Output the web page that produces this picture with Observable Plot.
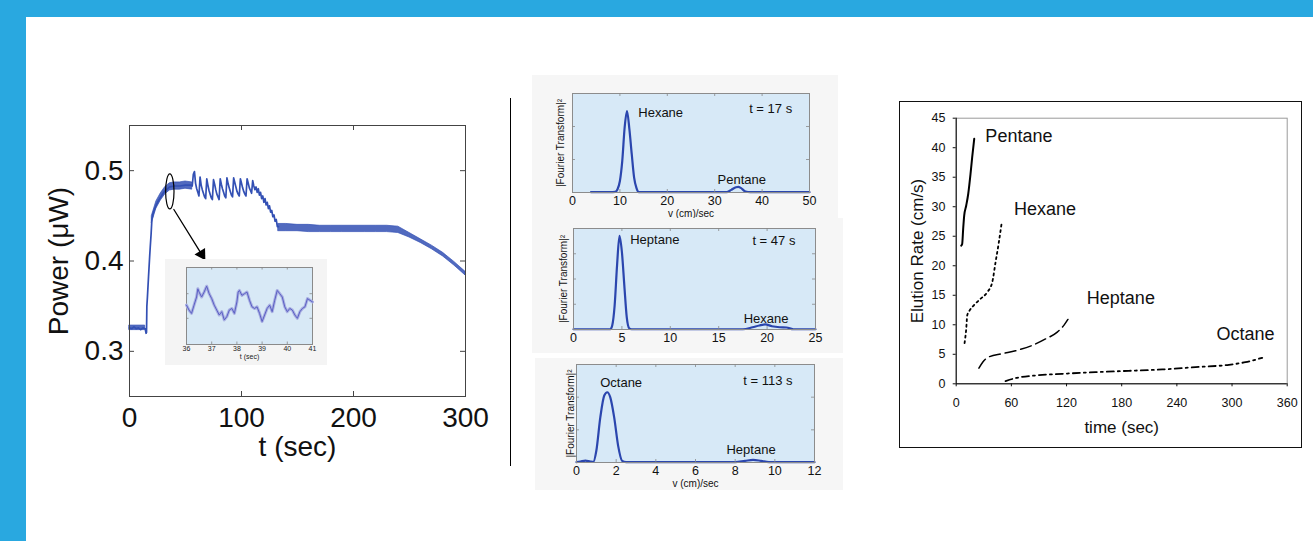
<!DOCTYPE html>
<html><head><meta charset="utf-8">
<script src="https://cdn.jsdelivr.net/npm/d3@7"></script>
<script src="https://cdn.jsdelivr.net/npm/@observablehq/plot@0.6"></script>
<style>
html,body{margin:0;padding:0;background:#fff;}
#page{position:relative;width:1313px;height:541px;overflow:hidden;font-family:"Liberation Sans",Arial,sans-serif;background:#fff;}
.abs{position:absolute;}
</style></head><body><div id="page">
<div class="abs" style="left:0;top:0;width:1313px;height:17px;background:#29a8e0"></div>
<div class="abs" style="left:0;top:0;width:26px;height:541px;background:#29a8e0"></div>
<div class="abs" style="left:510px;top:98px;width:1px;height:368px;background:#000"></div>
<div class="abs" style="left:899px;top:101px;width:403px;height:347px;box-sizing:border-box;border:1.5px solid #111"></div>
</div>
<script>
// ---------- Main power trace ----------
const mainXTicks = [0, 100, 200, 300];
const mainYTicks = [0.3, 0.4, 0.5];
const powerT = [0,2,4,6,8,10,12,14,14.8,15.2,15.5,16,17,18,18.5,19.3,20,21,22,24,26,28,30,32,34,36,40,45,50,55,56,
  57,58,59,60,61,62,63,64,65,66,67,68,69,70,71,72,73,74,75,76,77,78,79,80,81,82,83,84,85,86,87,88,89,90,
  91,92,93,94,95,96,97,98,99,100,101,102,103,104,105,106,107,108,109,110,111,112,113,114,115,116,117,118,119,120,
  121,122,123,124,125,126,127,128,129,130,131,132,133];
const powerV = [0.326,0.325,0.327,0.325,0.326,0.324,0.326,0.325,0.320,0.321,0.350,0.360,0.383,0.405,0.415,0.430,0.446,0.452,0.456,0.462,0.467,0.471,0.475,0.478,0.480,0.482,0.483,0.483,0.484,0.484,0.483,
  0.496,0.499,0.486,0.480,0.476,0.472,0.493,0.484,0.479,0.475,0.471,0.469,0.491,0.484,0.478,0.474,0.470,0.468,0.490,0.485,0.479,0.474,0.471,0.468,0.491,0.485,0.480,0.476,0.472,0.470,0.492,0.486,0.481,0.477,
  0.473,0.471,0.492,0.487,0.482,0.477,0.474,0.472,0.491,0.486,0.481,0.477,0.474,0.472,0.491,0.486,0.481,0.478,0.475,0.489,0.483,0.479,0.482,0.476,0.480,0.473,0.476,0.469,0.472,0.465,
  0.469,0.462,0.465,0.458,0.461,0.454,0.456,0.449,0.451,0.444,0.446,0.438,0.438];
// noise envelope (dense oscillation band)
const bandT   = [0,14, 20,24,28,32,36,40,45,50,56, 133,140,150,160,170,180,190,200,210,220,230,240,250,260,270,280,290,300];
const bandLo  = [0.3235,0.3235, 0.442,0.458,0.467,0.474,0.478,0.479,0.479,0.480,0.479, 0.433,0.433,0.433,0.432,0.432,0.432,0.432,0.432,0.432,0.432,0.432,0.431,0.426,0.420,0.413,0.405,0.395,0.384];
const bandHi  = [0.3285,0.3285, 0.450,0.466,0.475,0.482,0.486,0.487,0.487,0.488,0.487, 0.441,0.441,0.440,0.440,0.439,0.439,0.439,0.439,0.439,0.439,0.439,0.438,0.431,0.424,0.417,0.409,0.399,0.388];
const bandSeg = ["a","a","b","b","b","b","b","b","b","b","b","c","c","c","c","c","c","c","c","c","c","c","c","c","c","c","c","c","c"];
// zoom marker + arrow
const markT = [36], markP = [0.477];
const arrowT = [39.6, 64.6], arrowP = [0.457, 0.407];
const arrowHeadT = [64.4], arrowHeadP = [0.4075];

// ---------- Inset ----------
const insetXTicks = [36, 37, 38, 39, 40, 41];
const insetYTicks = [0.34, 0.66];
const insetT = [36.0,36.1,36.2,36.3,36.4,36.45,36.5,36.6,36.7,36.8,36.9,37.0,37.1,37.2,37.3,37.4,37.5,37.6,37.7,37.8,37.9,38.0,38.05,38.1,38.2,38.3,38.4,38.5,38.6,38.7,38.8,38.9,39.0,39.1,39.2,39.3,39.4,39.5,39.6,39.7,39.8,39.9,40.0,40.1,40.2,40.3,40.4,40.5,40.6,40.7,40.8,40.9,41.0];
const insetV = [0.511,0.447,0.404,0.511,0.617,0.723,0.681,0.617,0.681,0.757,0.660,0.596,0.511,0.447,0.383,0.426,0.319,0.362,0.447,0.468,0.404,0.553,0.681,0.702,0.638,0.660,0.681,0.574,0.489,0.468,0.489,0.404,0.298,0.383,0.468,0.511,0.426,0.574,0.702,0.660,0.617,0.489,0.426,0.468,0.447,0.383,0.340,0.426,0.468,0.489,0.596,0.574,0.553];

// ---------- Fourier transform panels ----------
const ft1XTicks = [0,10,20,30,40,50], ft1YTicks = [1,2];
const ft1V = [3.9,8,9,9.5,10,10.5,11,11.5,12,12.5,13,13.5,14,20,28,32.5,33.5,34.5,35,35.5,36.5,37.5,50];
const ft1A = [0.01,0.01,0.02,0.10,0.35,0.96,1.97,2.47,1.92,1.16,0.45,0.13,0.01,0.01,0.01,0.01,0.08,0.16,0.17,0.14,0.03,0.01,0.01];
const ft1Names = ["Hexane","Pentane"], ft1NameV = [18.6,35.7], ft1NameA = [2.42,0.37];
const ft1Time = ["t = 17 s"], ft1TimeV = [41.8], ft1TimeA = [2.55];

const ft2XTicks = [0,5,10,15,20,25], ft2YTicks = [1,2,3];
const ft2V = [0,3.8,4.0,4.25,4.5,4.75,5.0,5.25,5.5,5.75,6,17.5,18.5,19.2,19.8,20.5,21.3,22,22.7,25];
const ft2A = [0.01,0.01,0.16,0.95,2.54,3.71,3.07,1.75,0.49,0.05,0.01,0.01,0.09,0.16,0.20,0.13,0.09,0.08,0.01,0.01];
const ft2Names = ["Heptane","Hexane"], ft2NameV = [8.4,19.9], ft2NameA = [3.56,0.42];
const ft2Time = ["t = 47 s"], ft2TimeV = [20.7], ft2TimeA = [3.5];

const ft3XTicks = [0,2,4,6,8,10,12], ft3YTicks = [1,2];
const ft3V = [0,0.2,0.45,0.7,0.85,1.0,1.2,1.4,1.55,1.7,1.9,2.1,2.3,2.5,8.0,8.5,8.9,9.3,9.7,12];
const ft3A = [0.01,0.03,0.06,0.03,0.02,0.36,1.38,2.05,2.15,2.0,1.38,0.51,0.05,0.01,0.01,0.05,0.08,0.05,0.01,0.01];
const ft3Names = ["Octane","Heptane"], ft3NameV = [2.25,8.8], ft3NameA = [2.44,0.38];
const ft3Time = ["t = 113 s"], ft3TimeV = [9.65], ft3TimeA = [2.51];

// ---------- Elution rate ----------
const timeTicks = [0,60,120,180,240,300,360];
const rateTicks = [0,5,10,15,20,25,30,35,40,45];
const pentaneT = [5.4,6.5,7.6,8.7,10.9,13.1,15.6,17.4,19.6];
const pentaneR = [23.4,23.7,26.3,28.5,30.2,32.2,35.6,38.4,41.5];
const hexaneT = [9.1,10.9,12.0,14.5,19.2,26.5,33.7,39.2,42.8,46.4,49.3];
const hexaneR = [6.9,9.3,11.6,12.4,13.3,14.4,15.5,17.2,20.6,24.0,27.1];
const heptaneT = [24.7,29.0,34.8,50.0,64.5,82.7,97.2,109.9,117.1,121.5];
const heptaneR = [2.65,3.7,4.5,5.1,5.6,6.5,7.6,8.75,9.9,10.9];
const octaneT = [53.7,64.5,86.3,115.3,151.5,187.8,224.1,260.3,296.6,314.7,332.8];
const octaneR = [0.45,0.96,1.41,1.69,1.98,2.2,2.43,2.82,3.22,3.67,4.4];
const seriesNames = ["Pentane","Hexane","Heptane","Octane"];
const seriesLabelT = [68.2,96.5,179.1,314.7];
const seriesLabelR = [41.95,29.5,14.57,8.36];

// ================= drawing =================
const FONT = '"Liberation Sans", Arial, Helvetica, sans-serif';
const page = document.getElementById("page");
function place(node, left, top, z) {
  node.style.position = "absolute";
  node.style.left = left + "px";
  node.style.top = top + "px";
  if (z) node.style.zIndex = z;
  page.appendChild(node);
}
function inwardTicks(xt, yt, fw, fh, len, color, sw) {
  return [
    Plot.ruleX(xt, {insetTop: fh - len, stroke: color, strokeWidth: sw}),
    Plot.ruleX(xt, {insetBottom: fh - len, stroke: color, strokeWidth: sw}),
    Plot.ruleY(yt, {insetRight: fw - len, stroke: color, strokeWidth: sw}),
    Plot.ruleY(yt, {insetLeft: fw - len, stroke: color, strokeWidth: sw})
  ];
}
const idx = (arr) => arr.map((_, i) => i);
const BLUE = "#3350b4";

// ---- main plot ----
const ellipseSymbol = {
  draw(ctx) {
    const rx = 4.2, ry = 17.5, k = 0.5523;
    ctx.moveTo(rx, 0);
    ctx.bezierCurveTo(rx, k * ry, k * rx, ry, 0, ry);
    ctx.bezierCurveTo(-k * rx, ry, -rx, k * ry, -rx, 0);
    ctx.bezierCurveTo(-rx, -k * ry, -k * rx, -ry, 0, -ry);
    ctx.bezierCurveTo(k * rx, -ry, rx, -k * ry, rx, 0);
    ctx.closePath();
  }
};
{
  const W = 470, H = 360, mL = 99, mR = 35, mT = 15, mB = 74;
  const fw = W - mL - mR, fh = H - mT - mB;
  const p = Plot.plot({
    width: W, height: H, marginLeft: mL, marginRight: mR, marginTop: mT, marginBottom: mB,
    style: {fontFamily: FONT, fontSize: "28px", color: "#111", background: "transparent", overflow: "visible"},
    x: {domain: [0, 300]},
    y: {domain: [0.25, 0.55]},
    marks: [
      Plot.areaY(idx(bandT), {x: i => bandT[i], y1: i => bandLo[i], y2: i => bandHi[i], z: i => bandSeg[i], fill: BLUE, fillOpacity: 0.85, stroke: BLUE, strokeWidth: 0.7}),
      Plot.line(idx(powerT), {x: i => powerT[i], y: i => powerV[i], stroke: BLUE, strokeWidth: 1.7}),
      Plot.frame({stroke: "#444", strokeWidth: 1}),
      ...inwardTicks([100, 200], [0.3, 0.4, 0.5], fw, fh, 5, "#444", 1),
      Plot.axisX({ticks: mainXTicks, tickSize: 0, tickPadding: 11, label: "t (sec)", labelAnchor: "center", labelOffset: 59, labelArrow: false}),
      Plot.axisY({ticks: mainYTicks, tickSize: 0, tickPadding: 6, tickFormat: d3.format(".1f"), label: "Power (\u03bcW)", labelAnchor: "center", labelOffset: 81, labelArrow: false}),
      Plot.dot(idx(markT), {x: i => markT[i], y: i => markP[i], symbol: ellipseSymbol, stroke: "#000", fill: "none", strokeWidth: 1.2}),
      Plot.arrow([0], {x1: () => arrowT[0], y1: () => arrowP[0], x2: () => arrowT[1], y2: () => arrowP[1], stroke: "#000", strokeWidth: 1.3, headLength: 0}),
      Plot.dot(idx(arrowHeadT), {x: i => arrowHeadT[i], y: i => arrowHeadP[i], symbol: "triangle", r: 4.6, rotate: 148.5, fill: "#000", stroke: "none"})
    ]
  });
  place(p, 30, 110, 1);
}

// ---- inset ----
{
  const W = 162, H = 106, mL = 21, mR = 15, mT = 8, mB = 21;
  const fw = W - mL - mR, fh = H - mT - mB;
  const p = Plot.plot({
    width: W, height: H, marginLeft: mL, marginRight: mR, marginTop: mT, marginBottom: mB,
    style: {fontFamily: FONT, fontSize: "7px", color: "#222", background: "#f4f4f4", overflow: "visible"},
    x: {domain: [36, 41]},
    y: {domain: [0, 1]},
    marks: [
      Plot.frame({fill: "#d8e9f6", stroke: "#8a8a8a"}),
      Plot.line(idx(insetT), {x: i => insetT[i], y: i => insetV[i], stroke: "#a9b0e2", strokeWidth: 3}),
      Plot.line(idx(insetT), {x: i => insetT[i], y: i => insetV[i], stroke: "#5a5fc4", strokeWidth: 1}),
      ...inwardTicks([37, 38, 39, 40], insetYTicks, fw, fh, 2.5, "#888", 0.8),
      Plot.axisX({ticks: insetXTicks, tickSize: 0, tickPadding: 2, tickFormat: d3.format("d"), label: null}),
      Plot.axisX({ticks: [], tickSize: 0, label: "t (sec)", labelAnchor: "center", labelOffset: 14, labelArrow: false}),
      Plot.axisY({ticks: [], tickSize: 0, label: null})
    ]
  });
  place(p, 165, 259, 2);
}

// ---- FT panels ----
function ftPanel(o) {
  const {W, H, mL, mR, mT, mB} = o;
  const fw = W - mL - mR, fh = H - mT - mB;
  const inner = o.xTicks.slice(1, -1);
  const marks = [
    Plot.frame({fill: "#d7e9f7", stroke: "none"}),
    Plot.line(idx(o.v), {x: i => o.v[i], y: i => o.a[i], stroke: "#2b46ae", strokeWidth: 2.2, curve: "monotone-x"}),
    Plot.frame({stroke: "#8c8c8c"}),
    ...inwardTicks(inner, o.yTicks, fw, fh, 3, "#888", 0.8),
    Plot.text(idx(o.names), {x: i => o.nameV[i], y: i => o.nameA[i], text: i => o.names[i], fontSize: 13, fill: "#111"}),
    Plot.text(idx(o.time), {x: i => o.timeV[i], y: i => o.timeA[i], text: i => o.time[i], fontSize: 13, fill: "#111"}),
    Plot.axisX({ticks: o.xTicks, tickSize: 0, tickPadding: 4, fontSize: 12.5, label: null}),
    Plot.axisY({ticks: [], tickSize: 0, fontSize: 10, label: "|Fourier Transform|\u00b2", labelAnchor: "center", labelOffset: o.yOff, labelArrow: false})
  ];
  if (o.xLabel) marks.push(Plot.axisX({ticks: [], tickSize: 0, fontSize: 10, label: o.xLabel, labelAnchor: "center", labelOffset: o.xOff, labelArrow: false}));
  const p = Plot.plot({
    width: W, height: H, marginLeft: mL, marginRight: mR, marginTop: mT, marginBottom: mB,
    style: {fontFamily: FONT, fontSize: "10px", color: "#111", background: "#f6f6f6", overflow: "visible"},
    x: {domain: o.xDomain},
    y: {domain: o.yDomain},
    marks
  });
  place(p, o.left, o.top, 1);
}
ftPanel({left: 532, top: 75, W: 306, H: 143, mL: 40, mR: 29, mT: 18, mB: 26,
  v: ft1V, a: ft1A, xDomain: [0, 50], yDomain: [0, 3], xTicks: ft1XTicks, yTicks: ft1YTicks,
  names: ft1Names, nameV: ft1NameV, nameA: ft1NameA, time: ft1Time, timeV: ft1TimeV, timeA: ft1TimeA,
  xLabel: "v (cm)/sec", xOff: 24.5, yOff: 16});
ftPanel({left: 532, top: 218, W: 311, H: 135, mL: 41, mR: 28, mT: 10, mB: 24,
  v: ft2V, a: ft2A, xDomain: [0, 25], yDomain: [0, 4], xTicks: ft2XTicks, yTicks: ft2YTicks,
  names: ft2Names, nameV: ft2NameV, nameA: ft2NameA, time: ft2Time, timeV: ft2TimeV, timeA: ft2TimeA,
  xLabel: null, yOff: 14});
ftPanel({left: 535, top: 358, W: 308, H: 132, mL: 41, mR: 29, mT: 6, mB: 28,
  v: ft3V, a: ft3A, xDomain: [0, 12], yDomain: [0, 3], xTicks: ft3XTicks, yTicks: ft3YTicks,
  names: ft3Names, nameV: ft3NameV, nameA: ft3NameA, time: ft3Time, timeV: ft3TimeV, timeA: ft3TimeA,
  xLabel: "v (cm)/sec", xOff: 24.5, yOff: 10});

// ---- Elution rate ----
{
  const W = 401, H = 345;
  const series = [
    {t: pentaneT, r: pentaneR, dash: null, sw: 2},
    {t: hexaneT, r: hexaneR, dash: "2,3.5", sw: 1.8},
    {t: heptaneT, r: heptaneR, dash: "11,5", sw: 1.5},
    {t: octaneT, r: octaneR, dash: "7,4,2,4", sw: 1.8}
  ];
  const p = Plot.plot({
    width: W, height: H, marginLeft: 55.7, marginRight: 14.3, marginTop: 15.7, marginBottom: 63.7,
    style: {fontFamily: FONT, fontSize: "12.5px", color: "#111", background: "transparent", overflow: "visible"},
    x: {domain: [0, 360]},
    y: {domain: [0, 45]},
    marks: [
      Plot.frame({stroke: "#9a9a9a"}),
      Plot.ruleX([0], {stroke: "#000"}),
      Plot.ruleY([0], {stroke: "#000"}),
      ...series.map(s => Plot.line(idx(s.t), {x: i => s.t[i], y: i => s.r[i], stroke: "#000", strokeWidth: s.sw, strokeDasharray: s.dash, curve: "monotone-x"})),
      Plot.text(idx(seriesNames), {x: i => seriesLabelT[i], y: i => seriesLabelR[i], text: i => seriesNames[i], fontSize: 18, fill: "#111"}),
      Plot.axisX({ticks: timeTicks, tickSize: 3, tickPadding: 11.5, label: null}),
      Plot.axisX({ticks: [], tickSize: 0, label: "time (sec)", labelAnchor: "center", labelOffset: 49, fontSize: 17, labelArrow: false}),
      Plot.axisY({ticks: rateTicks, tickSize: 3, tickPadding: 7.7, label: null}),
      Plot.axisY({ticks: [], tickSize: 0, label: "Elution Rate (cm/s)", labelAnchor: "center", labelOffset: 45, fontSize: 17, labelArrow: false})
    ]
  });
  place(p, 900, 102, 1);
}
</script></body></html>
